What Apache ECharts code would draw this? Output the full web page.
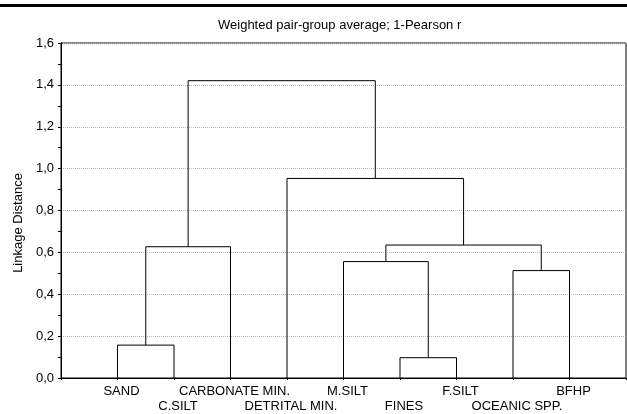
<!DOCTYPE html>
<html>
<head>
<meta charset="utf-8">
<script src="https://cdn.jsdelivr.net/npm/echarts@6/dist/echarts.min.js"></script>
<style>
  html, body { margin: 0; padding: 0; background: #fff; }
  #chart { width: 627px; height: 414px; }
</style>
</head>
<body>
<div id="chart"></div>
<script>
// leaves in dendrogram order
const leaves = ['SAND', 'C.SILT', 'CARBONATE MIN.', 'DETRITAL MIN.', 'M.SILT', 'FINES', 'F.SILT', 'OCEANIC SPP.', 'BFHP'];
// merge steps: node ids 0-8 are leaves, 9+ are clusters in order of creation
const mergeLeft = [5, 0, 7, 4, 10, 12, 3, 13];
const mergeRight = [6, 1, 8, 9, 2, 11, 14, 15];
const mergeHeight = [0.097, 0.157, 0.513, 0.556, 0.627, 0.635, 0.953, 1.420];

const font = "'Liberation Sans', Arial, sans-serif";

// node positions: leaf i sits at x = i + 1, cluster at the middle of its children
const nodeX = leaves.map((d, i) => i + 1);
const nodeH = leaves.map(() => 0);
const series = [];
mergeHeight.forEach((h, k) => {
  const a = mergeLeft[k], b = mergeRight[k];
  series.push({
    type: 'line',
    symbol: 'none',
    silent: true,
    z: 5,
    lineStyle: { color: '#000', width: 1 },
    data: [[nodeX[a], nodeH[a]], [nodeX[a], h], [nodeX[b], h], [nodeX[b], nodeH[b]]]
  });
  nodeX.push((nodeX[a] + nodeX[b]) / 2);
  nodeH.push(h);
});
// empty series so the top and right axes are drawn
series.push({
  type: 'line',
  xAxisIndex: 1,
  yAxisIndex: 1,
  symbol: 'none',
  silent: true,
  lineStyle: { opacity: 0 },
  data: [[0, 0]]
});

const chart = echarts.init(document.getElementById('chart'));

chart.setOption({
  animation: false,
  backgroundColor: '#fff',
  textStyle: { fontFamily: font },
  title: {
    text: 'Weighted pair-group average; 1-Pearson r',
    left: 213,
    top: 14,
    textStyle: { fontFamily: font, fontSize: 13, fontWeight: 'normal', color: '#000' }
  },
  graphic: {
    elements: [{
      type: 'rect',
      left: 0,
      top: 4,
      z: 100,
      shape: { width: 627, height: 3 },
      style: { fill: '#000' }
    }]
  },
  grid: {
    left: 61, right: 1, top: 43, bottom: 34,
    show: true, borderColor: '#000', borderWidth: 1, backgroundColor: 'transparent'
  },
  xAxis: [{
    type: 'value',
    min: 0,
    max: leaves.length + 1,
    interval: 1,
    position: 'bottom',
    axisLine: { show: true, lineStyle: { color: '#000', width: 1 } },
    axisTick: { show: false },
    splitLine: { show: false },
    axisLabel: {
      margin: 6,
      fontSize: 13,
      color: '#000',
      lineHeight: 15,
      padding: [0, 0, 0, 8],
      showMinLabel: false,
      showMaxLabel: false,
      formatter: (v) => {
        const name = leaves[v - 1];
        if (!name) return '';
        return (v - 1) % 2 === 0 ? name : '\n' + name;
      }
    }
  }, {
    type: 'value',
    min: 0,
    max: leaves.length + 1,
    interval: 1,
    position: 'top',
    axisLine: { show: true, lineStyle: { color: '#000', width: 1 } },
    axisTick: { show: true, inside: true, length: 2, lineStyle: { color: '#000' } },
    axisLabel: { show: false },
    splitLine: { show: false }
  }],
  yAxis: [{
    type: 'value',
    min: 0,
    max: 1.6,
    interval: 0.2,
    name: 'Linkage Distance',
    nameLocation: 'middle',
    nameGap: 35,
    nameRotate: 90,
    nameTextStyle: { fontSize: 13, color: '#000', fontFamily: font, padding: [0, 25, 0, 0] },
    axisLine: { show: true, lineStyle: { color: '#000', width: 1 } },
    axisTick: { show: false },
    minorTick: { show: true, splitNumber: 2, length: 3, lineStyle: { color: '#000' } },
    axisLabel: {
      margin: 7,
      fontSize: 13,
      color: '#000',
      formatter: (v) => v.toFixed(1).replace('.', ',')
    },
    splitLine: { show: true, lineStyle: { color: '#b8b8b8', type: 'dotted', width: 1 } }
  }, {
    type: 'value',
    min: 0,
    max: 1.6,
    interval: 0.2,
    position: 'right',
    axisLine: { show: true, lineStyle: { color: '#000', width: 1 } },
    axisTick: { show: true, inside: true, length: 3, lineStyle: { color: '#000' } },
    axisLabel: { show: false },
    splitLine: { show: false }
  }],
  series: series
});
</script>
</body>
</html>
